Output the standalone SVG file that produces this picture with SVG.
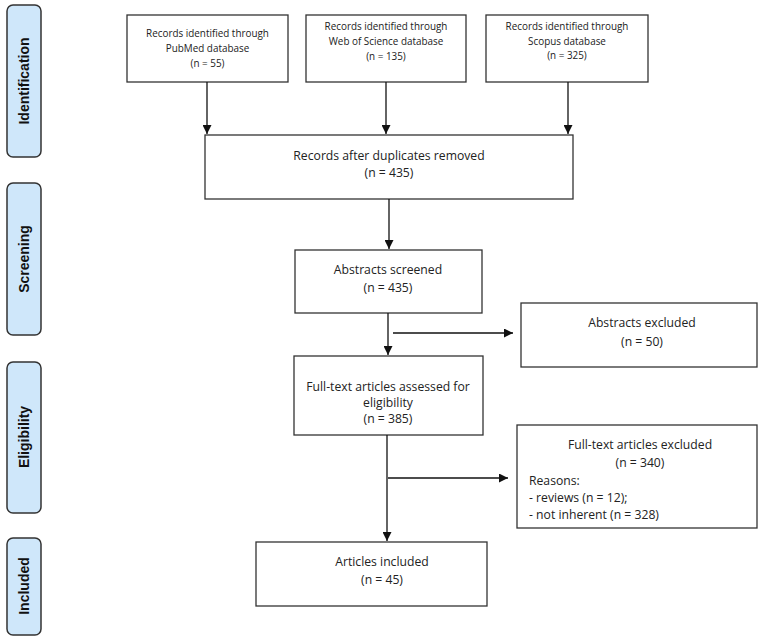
<svg xmlns="http://www.w3.org/2000/svg" width="767" height="642" viewBox="0 0 767 642">
<defs>
<marker id="ah" viewBox="0 0 10 10" refX="10" refY="5" markerWidth="9" markerHeight="9" markerUnits="userSpaceOnUse" orient="auto">
<path d="M0,0 L10,5 L0,10 z" fill="#111"/>
</marker>
</defs>
<style>
.box{fill:#fff;stroke:#333;stroke-width:1.3}
.side{fill:#cfe7fa;stroke:#333;stroke-width:1.5}
.t{font-family:"Open Sans","Liberation Sans",sans-serif;fill:#222;text-anchor:middle}
.s{font-size:9.9px}
.m{font-size:12.2px}
.st{font-family:"Liberation Sans",Arial,sans-serif;font-weight:bold;font-size:14px;fill:#111;text-anchor:middle}
.c{stroke:#111;stroke-width:1.3;fill:none}
</style>
<rect width="767" height="642" fill="#fff"/>
<g id="phase-identification"><rect class="side" x="7" y="5" width="34" height="152" rx="6"/><text class="st" transform="translate(29,81) rotate(-90)">Identification</text></g>
<g id="phase-screening"><rect class="side" x="7" y="183" width="34" height="152" rx="6"/><text class="st" transform="translate(29,259) rotate(-90)">Screening</text></g>
<g id="phase-eligibility"><rect class="side" x="7" y="362" width="34" height="151" rx="6"/><text class="st" transform="translate(29,437) rotate(-90)">Eligibility</text></g>
<g id="phase-included"><rect class="side" x="7" y="538" width="34" height="97" rx="6"/><text class="st" transform="translate(29,586) rotate(-90)">Included</text></g>

<g id="pubmed"><rect class="box" x="127" y="15" width="161" height="67"/>
<text class="t s" x="207.5" y="37">Records identified through</text>
<text class="t s" x="207.5" y="52">PubMed database</text>
<text class="t s" x="207.5" y="67">(n = 55)</text></g>
<g id="wos"><rect class="box" x="306" y="15" width="160" height="67"/>
<text class="t s" x="386" y="30">Records identified through</text>
<text class="t s" x="386" y="45">Web of Science database</text>
<text class="t s" x="386" y="60">(n = 135)</text></g>
<g id="scopus"><rect class="box" x="486" y="15" width="162" height="67"/>
<text class="t s" x="567" y="30">Records identified through</text>
<text class="t s" x="567" y="45">Scopus database</text>
<text class="t s" x="567" y="59">(n = 325)</text></g>
<g id="duplicates"><rect class="box" x="205" y="135" width="368" height="64"/>
<text class="t m" x="389" y="160">Records after duplicates removed</text>
<text class="t m" x="389" y="177">(n = 435)</text></g>
<g id="screened"><rect class="box" x="295" y="250" width="187" height="63"/>
<text class="t m" x="388" y="274">Abstracts screened</text>
<text class="t m" x="388" y="292">(n = 435)</text></g>
<g id="abs-excluded"><rect class="box" x="521" y="303" width="236" height="64"/>
<text class="t m" x="642" y="327">Abstracts excluded</text>
<text class="t m" x="642" y="346">(n = 50)</text></g>
<g id="fulltext"><rect class="box" x="294" y="356" width="189" height="79"/>
<text class="t m" x="388" y="391">Full-text articles assessed for</text>
<text class="t m" x="388" y="407">eligibility</text>
<text class="t m" x="388" y="423">(n = 385)</text></g>
<g id="ft-excluded"><rect class="box" x="517" y="425" width="240" height="103"/>
<text class="t m" x="640" y="449">Full-text articles excluded</text>
<text class="t m" x="640" y="467">(n = 340)</text>
<text class="t m" x="529" y="485" style="text-anchor:start">Reasons:</text>
<text class="t m" x="529" y="502" style="text-anchor:start">- reviews (n = 12);</text>
<text class="t m" x="529" y="519" style="text-anchor:start">- not inherent (n = 328)</text></g>
<g id="included"><rect class="box" x="256" y="542" width="231" height="64"/>
<text class="t m" x="382" y="566">Articles included</text>
<text class="t m" x="382" y="584">(n = 45)</text></g>

<g id="connectors">
<line class="c" x1="207" y1="82" x2="207" y2="134" marker-end="url(#ah)"/>
<line class="c" x1="386" y1="82" x2="386" y2="134" marker-end="url(#ah)"/>
<line class="c" x1="568" y1="82" x2="568" y2="134" marker-end="url(#ah)"/>
<line class="c" x1="389" y1="199" x2="389" y2="249" marker-end="url(#ah)"/>
<line class="c" x1="388" y1="313" x2="388" y2="355" marker-end="url(#ah)"/>
<line class="c" x1="393" y1="333" x2="513" y2="333" marker-end="url(#ah)"/>
<line class="c" x1="387" y1="435" x2="387" y2="541" marker-end="url(#ah)"/>
<line class="c" x1="388" y1="478" x2="508" y2="478" marker-end="url(#ah)"/>
</g>
</svg>
